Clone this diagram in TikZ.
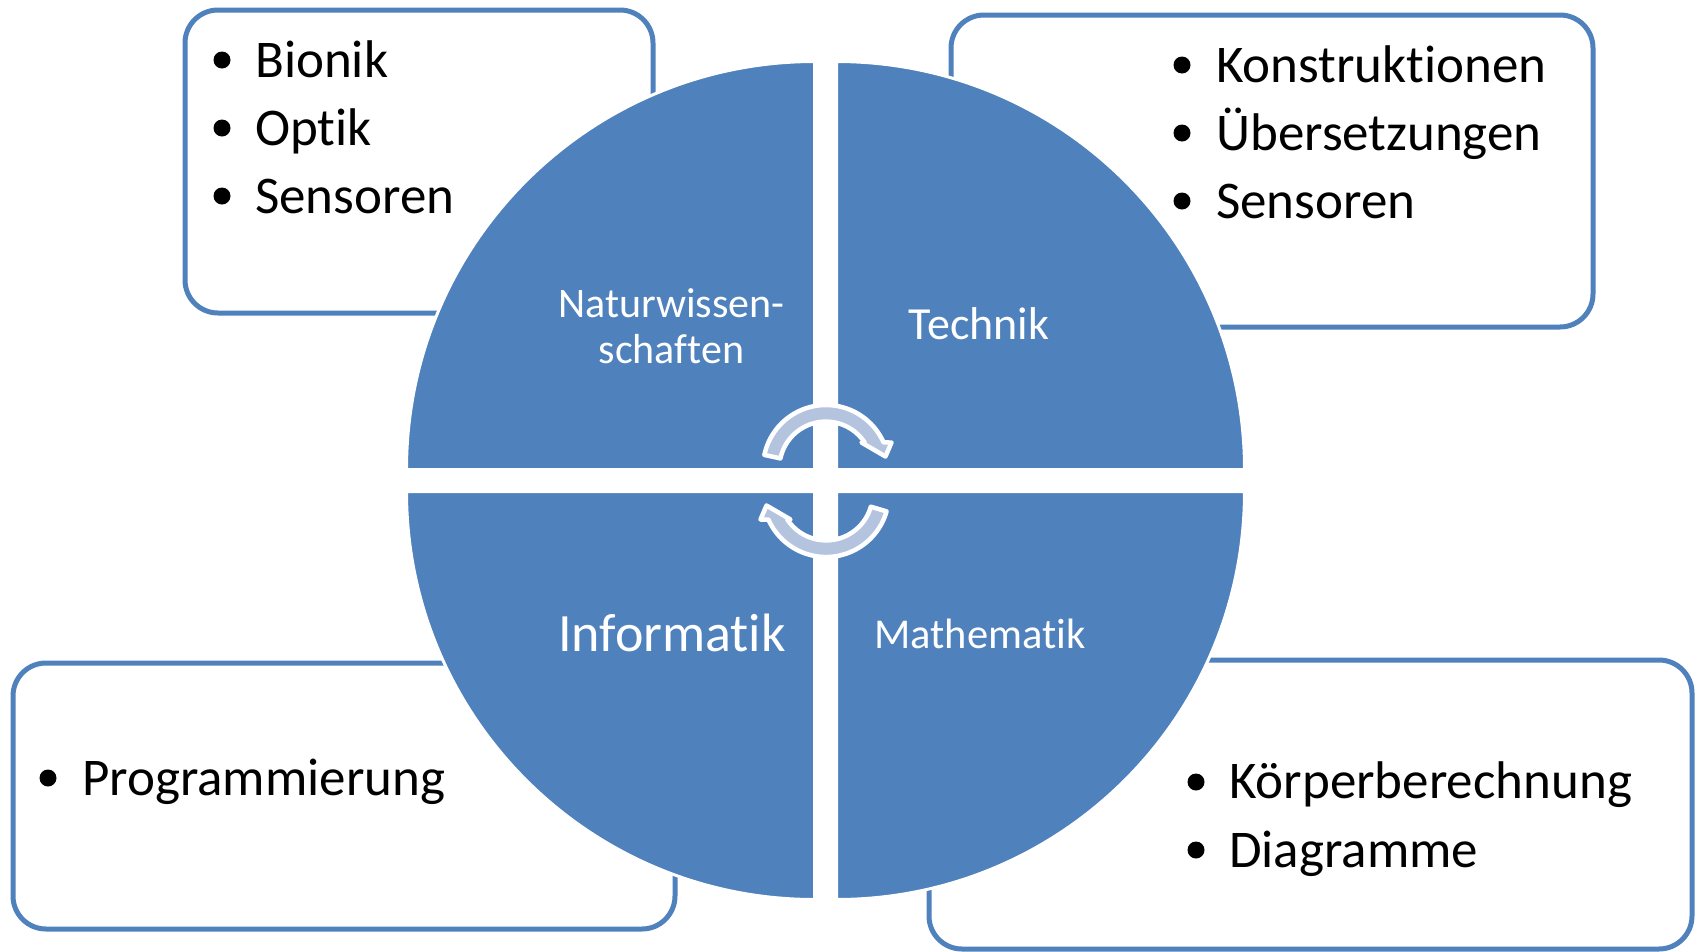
\documentclass[tikz,border=0pt]{standalone}
\usepackage{fontspec}
\setmainfont{Carlito}[Ligatures=CommonOff]
\definecolor{qblue}{HTML}{4F81BD}
\definecolor{boxblue}{HTML}{4F81BD}
\definecolor{arrowfill}{HTML}{B4C4DF}
\begin{document}
\begin{tikzpicture}[x=1pt,y=1pt,
  infobox/.style={draw=boxblue, line width=5pt, fill=white, rounded corners=33pt},
  quad/.style={fill=qblue, draw=white, line width=3pt},
  itemtext/.style={anchor=base west, inner sep=0pt, font=\fontsize{53}{62}\selectfont},
  bulletdot/.style={fill=black, draw=none},
  seglabel/.style={anchor=base, inner sep=0pt, text=white},
  cyclearrow/.style={fill=arrowfill, draw=white, line width=4.5pt, line join=round}
]
\useasboundingbox (0,0) rectangle (1698,-951);

% info boxes
\draw[infobox] (185,-10) rectangle (653,-313);
\draw[infobox] (951,-15) rectangle (1593,-327);
\draw[infobox] (13,-663) rectangle (675,-929);
\draw[infobox] (929,-660) rectangle (1692,-949);

% quadrants
\draw[quad] (814.5,-469.5) -- ++(-408,0) arc[start angle=180, end angle=90, radius=408] -- cycle;
\draw[quad] (836.5,-469.5) -- ++(0,408) arc[start angle=90, end angle=0, radius=408] -- cycle;
\draw[quad] (814.5,-491.5) -- ++(-408,0) arc[start angle=180, end angle=270, radius=408] -- cycle;
\draw[quad] (836.5,-491.5) -- ++(408,0) arc[start angle=0, end angle=-90, radius=408] -- cycle;

% quadrant labels
\node[seglabel, font=\fontsize{42}{46}\selectfont] (nw1) at (671.5,-317.5) {Naturwissen-};
\node[seglabel, font=\fontsize{42}{46}\selectfont] (nw2) at (671.5,-363) {schaften};
\node[seglabel, font=\fontsize{46}{50}\selectfont] (tech) at (979,-339) {Technik};
\node[seglabel, font=\fontsize{54}{58}\selectfont] (inf) at (672,-651) {Informatik};
\node[seglabel, font=\fontsize{42.5}{46}\selectfont] (math) at (980,-648) {Mathematik};

% top-left box items
\fill[bulletdot] (222,-60) circle (8.5);
\fill[bulletdot] (222,-128) circle (8.5);
\fill[bulletdot] (222,-196) circle (8.5);
\node[itemtext] (b1) at (255,-77) {Bionik};
\node[itemtext] (b2) at (255,-145) {Optik};
\node[itemtext] (b3) at (255,-213) {Sensoren};

% top-right box items
\fill[bulletdot] (1182,-65) circle (8.5);
\fill[bulletdot] (1182,-133) circle (8.5);
\fill[bulletdot] (1182,-201) circle (8.5);
\node[itemtext] (t1) at (1216,-82) {Konstruktionen};
\node[itemtext] (t2) at (1216,-150) {Übersetzungen};
\node[itemtext] (t3) at (1216,-218) {Sensoren};

% bottom-left box items
\fill[bulletdot] (48,-778) circle (8.5);
\node[itemtext] (p1) at (82,-795) {Programmierung};

% bottom-right box items
\fill[bulletdot] (1196,-782) circle (8.5);
\fill[bulletdot] (1196,-850) circle (8.5);
\node[itemtext] (m1) at (1229,-798) {Körperberechnung};
\node[itemtext] (m2) at (1229,-867) {Diagramme};

% cycle arrows
\begin{scope}[shift={(826,-468)}]
\draw[cyclearrow] (168:63) arc[start angle=168, end angle=23.9, radius=63]
  -- (65.5,25.5) -- (59.5,11.5) -- (35.5,25.5) -- (38.7,25.5)
  arc[start angle=33.4, end angle=168, radius=46.5] -- cycle;
\end{scope}
\begin{scope}[shift={(826,-494)}, rotate=180]
\draw[cyclearrow] (164:63) arc[start angle=164, end angle=23.9, radius=63]
  -- (65.5,25.5) -- (59.5,11.5) -- (35.5,25.5) -- (38.7,25.5)
  arc[start angle=33.4, end angle=164, radius=46.5] -- cycle;
\end{scope}
\end{tikzpicture}
\end{document}
